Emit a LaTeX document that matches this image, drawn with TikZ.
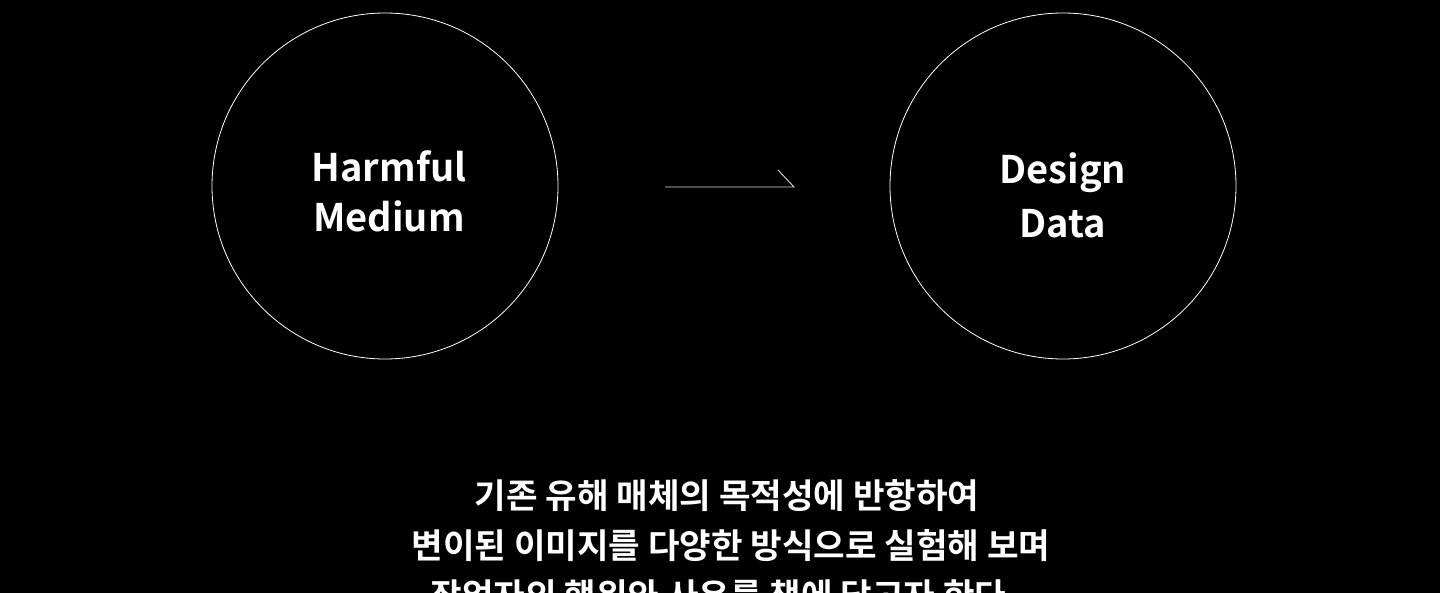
\documentclass[tikz,border=0pt]{standalone}
\usepackage{fontspec}
\newfontfamily\krfont{Noto Sans CJK KR}[BoldFont={* Bold}]
\newfontfamily\latfont{Noto Sans CJK KR}[UprightFont={* Bold}]
\begin{document}
\begin{tikzpicture}[x=1pt,y=-1pt,
  ring/.style={draw=white,line width=0.8pt,circle,minimum size=346pt,inner sep=0pt},
  lbl/.style={text=white,anchor=base,inner sep=0pt,font=\latfont\fontsize{38}{50}\selectfont},
  kr/.style={text=white,anchor=base,inner sep=0pt,font=\krfont\bfseries\fontsize{34.3}{50}\selectfont},
  conn/.style={draw=white!85!black,line width=0.9pt}]
\useasboundingbox (0,0) rectangle (1440,593);
\fill[black] (0,0) rectangle (1440,593);
\clip (0,0) rectangle (1440,593);
\node[ring] (L) at (385,186) {};
\node[ring] (R) at (1063,186) {};
\node[lbl] (h1) at (389,182) {Harmful};
\node[lbl] (h2) at (389,232) {Medium};
\node[lbl] (d1) at (1063,184) {Design};
\node[lbl] (d2) at (1063,238) {Data};
\coordinate (a0) at (665,187);
\coordinate (a1) at (794,187);
\coordinate (a2) at (778,170);
\draw[conn] (a0) -- (a1) -- (a2);
\node[kr] (k1) at (727,508) {기존 유해 매체의 목적성에 반항하여};
\node[kr] (k2) at (731,558) {변이된 이미지를 다양한 방식으로 실험해 보며};
\node[kr] (k3) at (724,608) {작업자의 행위와 사유를 책에 담고자 한다.};
\end{tikzpicture}
\end{document}
